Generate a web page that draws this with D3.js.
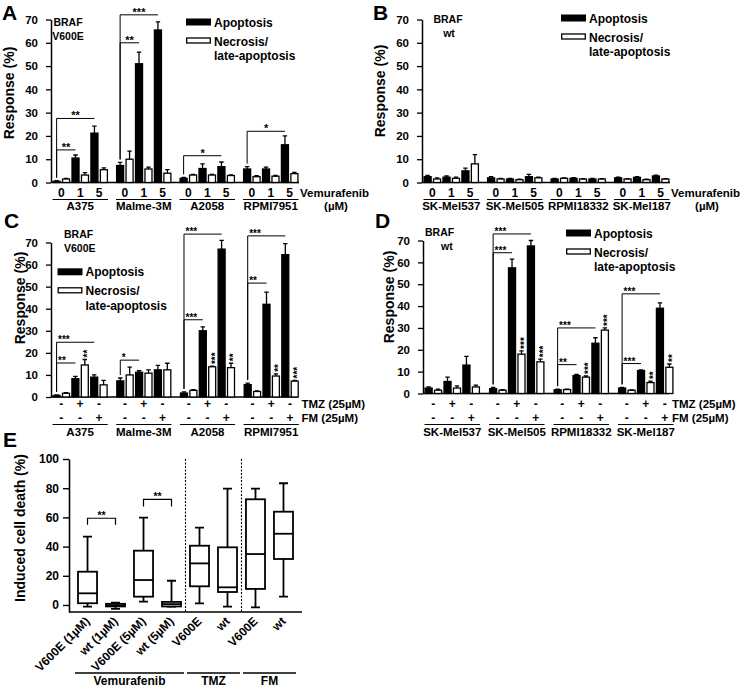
<!DOCTYPE html>
<html><head><meta charset="utf-8">
<script src="https://cdn.jsdelivr.net/npm/d3@7"></script>
<style>
body{margin:0;background:#fff}
svg{display:block}
text{font-family:"Liberation Sans",Arial,Helvetica,sans-serif;font-weight:bold;fill:#000}
</style>
</head><body>
<svg id="chart" width="742" height="686"></svg>
<script>
// ---------------- DATA ----------------
const yTicks = [0,10,20,30,40,50,60,70];
const doseLabels = ["0","1","5"];
const tmzSigns = ["-","+","-"];
const fmSigns  = ["-","-","+"];

// Panel A (BRAF V600E, vemurafenib 0/1/5 µM)
const groupsA = ["A375","Malme-3M","A2058","RPMI7951"];
const apopA    = [[0.5,10.5,21.2],[7.3,51,65.5],[1.8,6,6.8],[5.8,5.8,16.2]];
const apopErrA = [[0.3,1.3,3],[1.3,5,3.5],[0.4,2,2],[1,0.8,3.8]];
const necA     = [[1.5,3.2,5.5],[10,5.8,4],[3.2,3.2,3],[2.5,2.7,3.8]];
const necErrA  = [[0.3,1,0.8],[3.5,0.8,1.5],[0.3,0.3,0.3],[0.4,0.3,0.5]];
const sigA = [
  {g:0,from:0,to:1,v:14,label:"**"},{g:0,from:0,to:2,v:27.5,label:"**"},
  {g:1,from:0,to:1,v:60,label:"**"},{g:1,from:0,to:2,v:72,label:"***"},
  {g:2,from:0,to:2,v:11.5,label:"*"},{g:3,from:0,to:2,v:22,label:"*"}];

// Panel B (BRAF wt, vemurafenib)
const groupsB = ["SK-Mel537","SK-Mel505","RPMI18332","SK-Mel187"];
const apopB    = [[2.5,2.3,5],[2,1.5,2.5],[1.5,1.8,1.5],[2,2.2,2.8]];
const apopErrB = [[0.5,0.5,1.2],[0.5,0.3,1],[0.3,0.3,0.3],[0.3,0.3,0.4]];
const necB     = [[1.5,1.8,8],[1.5,1.2,2],[1.8,1.5,1.5],[1.5,1.2,1.5]];
const necErrB  = [[0.5,0.5,4],[0.3,0.2,0.3],[0.2,0.2,0.2],[0.2,0.2,0.2]];

// Panel C (BRAF V600E, TMZ / FM)
const groupsC = ["A375","Malme-3M","A2058","RPMI7951"];
const apopC    = [[0.7,8.3,9],[7.3,11.2,12.3],[1.8,30,67],[5.6,42,64.5]];
const apopErrC = [[0.2,1,1],[1.3,0.7,2],[0.5,1.8,4],[0.7,5.5,5]];
const necC     = [[1.7,14.5,5.5],[10,10.8,12.3],[3,13.7,13.3],[2.5,9.5,7.2]];
const necErrC  = [[0.3,2.5,2],[3.5,1.5,3],[0.3,0.3,2],[0.3,1,0.3]];
const sigC = [
  {g:0,from:0,to:1,v:15.4,label:"**"},{g:0,from:0,to:2,v:24.8,label:"***"},
  {g:1,from:0,to:1,v:16.7,label:"*"},
  {g:2,from:0,to:1,v:35,label:"***"},{g:2,from:0,to:2,v:73.8,label:"***"},
  {g:3,from:0,to:1,v:51.6,label:"**"},{g:3,from:0,to:2,v:73,label:"***"}];
const rotC = [{g:0,pair:1,label:"**"},{g:2,pair:1,label:"***"},{g:2,pair:2,label:"**"},
              {g:3,pair:1,label:"**"},{g:3,pair:2,label:"***"}];

// Panel D (BRAF wt, TMZ / FM)
const groupsD = ["SK-Mel537","SK-Mel505","RPMI18332","SK-Mel187"];
const apopD    = [[2.5,5.5,13],[2.2,57.5,67.5],[1.7,8.2,23],[2.5,10.5,39]];
const apopErrD = [[0.5,2,4],[0.6,4,2.5],[0.3,0.5,2.5],[0.3,0.3,2.5]];
const necD     = [[1.5,2.5,3],[1.5,18,14.5],[1.8,7.5,29],[1.5,5,12]];
const necErrD  = [[0.5,1,0.8],[0.3,1.5,1.2],[0.2,0.5,1],[0.2,0.7,1.5]];
const sigD = [
  {g:1,from:0,to:1,v:64.4,label:"***"},{g:1,from:0,to:2,v:73,label:"***"},
  {g:2,from:0,to:1,v:13.2,label:"**"},{g:2,from:0,to:2,v:30,label:"***"},
  {g:3,from:0,to:1,v:13.7,label:"***"},{g:3,from:0,to:2,v:45.6,label:"***"}];
const rotD = [{g:1,pair:1,label:"***"},{g:1,pair:2,label:"***"},{g:2,pair:1,label:"***"},
              {g:2,pair:2,label:"***"},{g:3,pair:1,label:"**"},{g:3,pair:2,label:"**"}];

// Panel E (box plots)
const boxCats = ["V600E (1µM)","wt (1µM)","V600E (5µM)","wt (5µM)","V600E","wt","V600E","wt"];
const boxMin = [-1.1,-2.7,2.3,-1.1,1.1,-1.1,-1.6,5.7];
const boxQ1  = [1.2,-1.0,5.7,-1.0,12.8,8.9,11,31.5];
const boxMed = [8,-0.2,17.1,0.6,28.5,12.1,34.9,48.8];
const boxQ3  = [22.8,0.8,37.2,2.1,40.6,39.5,72.4,63.9];
const boxMax = [46.8,1.6,59.8,16.6,53,79.7,79.7,83.4];
const eTicks = [0,20,40,60,80,100];
const eGroups = [{label:"Vemurafenib",from:0,to:3},{label:"TMZ",from:4,to:5},{label:"FM",from:6,to:7}];
const sigE = [{from:0,to:1,v:59.4,drop:4.5,label:"**"},{from:2,to:3,v:72.4,drop:5,label:"**"}];

// ---------------- DRAWING ----------------
const svg = d3.select("#chart");

function txt(g, x, y, s, size, anchor){
  return g.append("text").attr("x",x).attr("y",y).attr("font-size",size)
    .attr("text-anchor",anchor||"start").text(s);
}

function barPanel(o){
  const g = svg.append("g");
  const y = d3.scaleLinear().domain([0,70]).range([o.yZero,o.yTop]);
  const gx = d3.scaleBand().domain(o.groups)
    .range([o.x0, o.x0 + 4*o.step - o.gap]).paddingInner(o.gap/o.step).paddingOuter(0);
  const bx = d3.scaleBand().domain(d3.range(6)).range([0,gx.bandwidth()]).paddingInner(0.13);
  const bw = bx.bandwidth();
  const barX = (gi,i) => gx(o.groups[gi]) + bx(i);
  const pairC = (gi,p) => gx(o.groups[gi]) + (bx(2*p)+bx(2*p+1)+bw)/2;

  // y axis
  const ax = g.append("g").attr("transform",`translate(${o.axisX},0)`)
    .call(d3.axisLeft(y).tickValues(yTicks).tickSize(5).tickSizeOuter(0).tickPadding(o.tickPad));
  ax.select(".domain").attr("stroke","#000").attr("stroke-width",1.5);
  ax.selectAll(".tick line").attr("stroke","#000").attr("stroke-width",1.3);
  ax.selectAll(".tick text").attr("font-size",11.5).attr("font-family",null).attr("fill","#000");
  // x axis baseline
  g.append("line").attr("x1",o.axisX).attr("x2",o.axisEnd).attr("y1",y(0)).attr("y2",y(0))
    .attr("stroke","#000").attr("stroke-width",1.5);

  // bars
  const bars = [];
  o.groups.forEach((name,gi)=>{
    o.apop[gi].forEach((v,d)=>{
      bars.push({gi,i:2*d,v,e:o.apopErr[gi][d],fill:"#000"});
      bars.push({gi,i:2*d+1,v:o.nec[gi][d],e:o.necErr[gi][d],fill:"#fff"});
    });
  });
  g.selectAll("rect.bar").data(bars).join("rect").attr("class","bar")
    .attr("x",d=>barX(d.gi,d.i)+0.6).attr("width",bw-1.2)
    .attr("y",d=>y(d.v)).attr("height",d=>y(0)-y(d.v))
    .attr("fill",d=>d.fill).attr("stroke","#000").attr("stroke-width",1.3);
  g.selectAll("path.err").data(bars).join("path").attr("class","err")
    .attr("d",d=>{const cx=barX(d.gi,d.i)+bw/2, t=y(d.v+d.e);
      return `M${cx},${y(d.v)}V${t}M${cx-2.2},${t}H${cx+2.2}`;})
    .attr("stroke","#000").attr("stroke-width",1.3).attr("fill","none");

  // significance brackets
  (o.sig||[]).forEach(s=>{
    const x1 = barX(s.g,2*s.from)+bw/2, x2 = barX(s.g,2*s.to)+bw/2;
    const yy = y(s.v);
    const firstTop = y(o.apop[s.g][s.from] + o.apopErr[s.g][s.from]) - 3;
    g.append("path").attr("d",`M${x1},${firstTop}V${yy}H${x2}`)
      .attr("stroke","#000").attr("stroke-width",1).attr("fill","none");
    if(o.sigCenter) txt(g,(x1+x2)/2,yy+1,s.label,o.starSize,"middle");
    else txt(g,x1+1.5,yy+1,s.label,o.starSize,"start");
  });
  // rotated stars above necrosis bars
  (o.rot||[]).forEach(r=>{
    const i = 2*r.pair+1;
    const cx = barX(r.g,i)+bw/2;
    const t = y(o.nec[r.g][r.pair]+o.necErr[r.g][r.pair]) - 2;
    g.append("text").attr("transform",`translate(${cx+6.3},${t}) rotate(-90)`)
      .attr("font-size",10).text(r.label);
  });

  // x labels
  o.groups.forEach((name,gi)=>{
    if(o.doses){
      o.doses.forEach((d,p)=>txt(g,pairC(gi,p),o.row1Y,d,12,"middle"));
    } else {
      o.row1.forEach((d,p)=>txt(g,pairC(gi,p),o.row1Y,d,12,"middle"));
      o.row2.forEach((d,p)=>txt(g,pairC(gi,p),o.row2Y,d,12,"middle"));
    }
    g.append("line").attr("x1",gx(name)).attr("x2",gx(name)+gx.bandwidth())
      .attr("y1",o.ulY).attr("y2",o.ulY).attr("stroke","#000").attr("stroke-width",1.2);
    txt(g,gx(name)+gx.bandwidth()/2,o.nameY,name,11.5,"middle");
  });
  o.sideLabels.forEach(s=>txt(g,s.x,s.y,s.t,11.5,s.a||"start"));

  // legend
  const L = o.legend;
  g.append("rect").attr("x",L.x).attr("y",L.y).attr("width",25).attr("height",7).attr("fill","#000");
  g.append("rect").attr("x",L.x+0.7).attr("y",L.y+19.5).attr("width",23.6).attr("height",5)
    .attr("fill","#fff").attr("stroke","#000").attr("stroke-width",1.3);
  txt(g,L.x+28,L.y+8,"Apoptosis",12);
  txt(g,L.x+28,L.y+27,"Necrosis/",12);
  txt(g,L.x+28,L.y+41.5,"late-apoptosis",12);

  // BRAF status
  txt(g,o.braf.x,o.braf.y,"BRAF",10.5,o.braf.a);
  txt(g,o.braf.x2,o.braf.y+14,o.braf.t,10.5,o.braf.a);

  // y title
  g.append("text").attr("transform",`translate(${o.yTitle.x},${o.yTitle.y}) rotate(-90)`)
    .attr("text-anchor","middle").attr("font-size",14).text("Response (%)");
  // panel letter
  txt(g,o.letter.x,o.letter.y,o.letter.t,21);
}

barPanel({groups:groupsA,apop:apopA,apopErr:apopErrA,nec:necA,necErr:necErrA,sig:sigA,sigCenter:true,starSize:11,
  axisX:51,axisEnd:299,x0:52.5,step:63.5,gap:8,yZero:182.5,yTop:19.5,tickPad:8,
  doses:doseLabels,row1Y:197,ulY:199.5,nameY:210,
  sideLabels:[{x:300,y:197,t:"Vemurafenib"},{x:336,y:210,t:"(µM)",a:"middle"}],
  legend:{x:186,y:18.5},braf:{x:68,x2:68,y:26,t:"V600E",a:"middle"},
  yTitle:{x:14,y:93},letter:{x:2,y:20,t:"A"}});

barPanel({groups:groupsB,apop:apopB,apopErr:apopErrB,nec:necB,necErr:necErrB,sig:[],sigCenter:true,starSize:11,
  axisX:422,axisEnd:670,x0:423.5,step:63.5,gap:8,yZero:182.5,yTop:19.5,tickPad:8,
  doses:doseLabels,row1Y:197,ulY:199.5,nameY:210,
  sideLabels:[{x:671,y:197,t:"Vemurafenib"},{x:707,y:210,t:"(µM)",a:"middle"}],
  legend:{x:561,y:14.5},braf:{x:448,x2:449,y:22.5,t:"wt",a:"middle"},
  yTitle:{x:385,y:91},letter:{x:373,y:20,t:"B"}});

barPanel({groups:groupsC,apop:apopC,apopErr:apopErrC,nec:necC,necErr:necErrC,sig:sigC,rot:rotC,sigCenter:false,starSize:10,
  axisX:51,axisEnd:298,x0:52.5,step:63.7,gap:8.5,yZero:397,yTop:242.5,tickPad:8,
  row1:tmzSigns,row2:fmSigns,row1Y:407.5,row2Y:421.5,ulY:424.5,nameY:435.5,
  sideLabels:[{x:301.5,y:407.5,t:"TMZ (25µM)"},{x:301.5,y:421.5,t:"FM (25µM)"}],
  legend:{x:57.5,y:268.3},braf:{x:64,x2:64,y:238,t:"V600E",a:"start"},
  yTitle:{x:25,y:298},letter:{x:4,y:228,t:"C"}});

barPanel({groups:groupsD,apop:apopD,apopErr:apopErrD,nec:necD,necErr:necErrD,sig:sigD,rot:rotD,sigCenter:false,starSize:10,
  axisX:423,axisEnd:669,x0:424.5,step:64.5,gap:9,yZero:393.5,yTop:240.5,tickPad:8,
  row1:tmzSigns,row2:fmSigns,row1Y:407.5,row2Y:421.5,ulY:424.5,nameY:435.5,
  sideLabels:[{x:672,y:407.5,t:"TMZ (25µM)"},{x:672,y:421.5,t:"FM (25µM)"}],
  legend:{x:566,y:229.5},braf:{x:425,x2:441,y:235.5,t:"wt",a:"start"},
  yTitle:{x:394,y:297},letter:{x:375,y:228,t:"D"}});

// ---- Panel E: box plots ----
(function(){
  const g = svg.append("g");
  const y = d3.scaleLinear().domain([-4.8,100]).range([612,459]);
  const x = d3.scaleBand().domain(d3.range(boxCats.length)).range([74.5,296.5])
    .paddingInner(0.32).paddingOuter(0.125);
  const bw = x.bandwidth();
  const ax = g.append("g").attr("transform","translate(69,0)")
    .call(d3.axisLeft(y).tickValues(eTicks).tickSize(6).tickSizeOuter(0).tickPadding(4));
  ax.select(".domain").attr("stroke","#000").attr("stroke-width",1.6);
  ax.selectAll(".tick line").attr("stroke","#000").attr("stroke-width",1.4);
  ax.selectAll(".tick text").attr("font-size",12).attr("font-family",null).attr("fill","#000");
  g.append("line").attr("x1",69).attr("x2",302).attr("y1",612).attr("y2",612)
    .attr("stroke","#000").attr("stroke-width",1.6);

  // separators
  [3,5].forEach(i=>{
    const sx = (x(i)+bw+x(i+1))/2;
    g.append("line").attr("x1",sx).attr("x2",sx).attr("y1",459).attr("y2",612)
      .attr("stroke","#000").attr("stroke-width",1.1).attr("stroke-dasharray","2,1.5");
  });

  const boxes = boxCats.map((c,i)=>({i,min:boxMin[i],q1:boxQ1[i],med:boxMed[i],q3:boxQ3[i],max:boxMax[i]}));
  const bg = g.selectAll("g.box").data(boxes).join("g").attr("class","box");
  bg.append("path").attr("d",d=>{const cx=x(d.i)+bw/2;
      return `M${cx},${y(d.max)}V${y(d.q3)}M${cx},${y(d.q1)}V${y(d.min)}`+
             `M${cx-4.5},${y(d.max)}H${cx+4.5}M${cx-4.5},${y(d.min)}H${cx+4.5}`;})
    .attr("stroke","#000").attr("stroke-width",1.8).attr("fill","none");
  bg.append("rect").attr("x",d=>x(d.i)).attr("width",bw)
    .attr("y",d=>y(d.q3)).attr("height",d=>Math.max(1,y(d.q1)-y(d.q3)))
    .attr("fill","#fff").attr("stroke","#000").attr("stroke-width",1.8);
  bg.append("line").attr("x1",d=>x(d.i)).attr("x2",d=>x(d.i)+bw)
    .attr("y1",d=>y(d.med)).attr("y2",d=>y(d.med)).attr("stroke","#000").attr("stroke-width",1.8);

  // significance
  sigE.forEach(s=>{
    const x1=x(s.from)+bw/2, x2=x(s.to)+bw/2, yy=y(s.v), yb=y(s.v-s.drop);
    g.append("path").attr("d",`M${x1},${yb}V${yy}H${x2}V${yb}`)
      .attr("stroke","#000").attr("stroke-width",1.2).attr("fill","none");
    txt(g,(x1+x2)/2,yy+1,s.label,10.5,"middle");
  });

  // rotated category labels
  boxCats.forEach((c,i)=>{
    g.append("text").attr("transform",`translate(${x(i)+bw/2+3},${622}) rotate(-45)`)
      .attr("text-anchor","end").attr("font-size",12).text(c);
  });
  // group labels
  eGroups.forEach(gr=>{
    const a = x(gr.from)-3, b = x(gr.to)+bw+3;
    g.append("line").attr("x1",a).attr("x2",b).attr("y1",673).attr("y2",673)
      .attr("stroke","#000").attr("stroke-width",1.4);
    txt(g,(a+b)/2,684.5,gr.label,12,"middle");
  });

  g.append("text").attr("transform","translate(25,528) rotate(-90)")
    .attr("text-anchor","middle").attr("font-size",14).text("Induced cell death (%)");
  txt(g,3,447,"E",21);
})();
</script>
</body></html>
